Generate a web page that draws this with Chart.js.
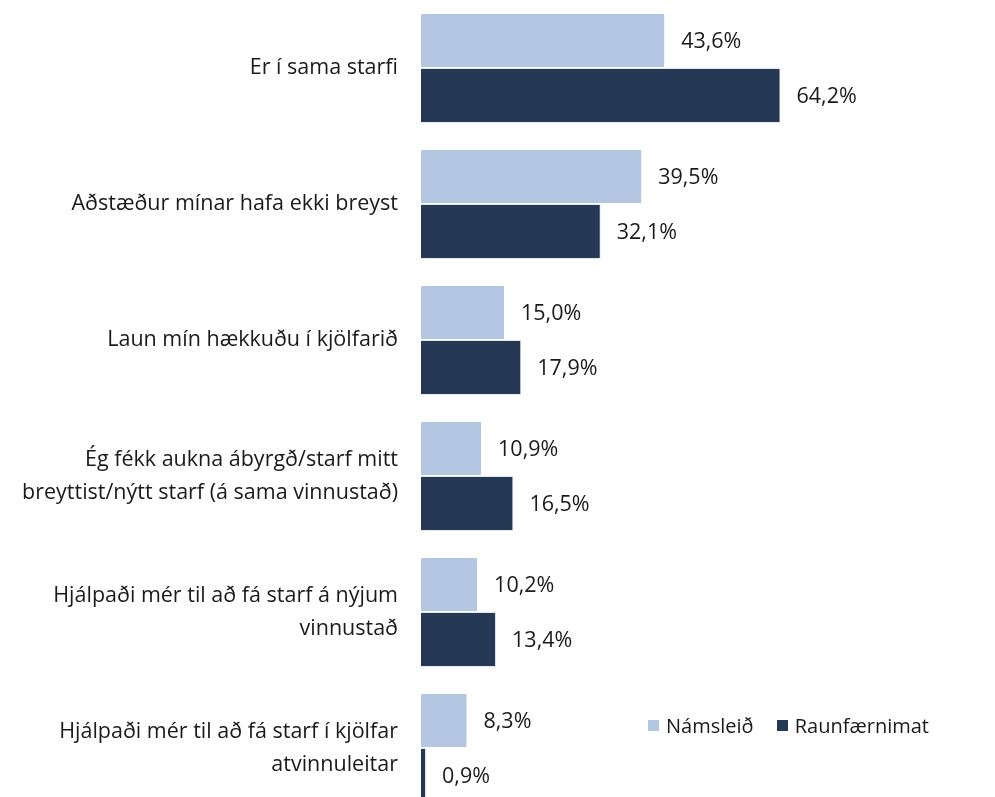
<!DOCTYPE html>
<html>
<head>
<meta charset="utf-8">
<script src="https://cdn.jsdelivr.net/npm/chart.js@4"></script>
<style>
  body { margin: 0; background: #fff; overflow: hidden; }
  #wrap { position: relative; width: 995px; height: 816px; }
  #legend { position: absolute; left: 648px; top: 712px; font: 20px "Open Sans", sans-serif; color: #1a1a1a; white-space: nowrap; }
  #legend span.sw { display: inline-block; width: 11px; height: 11px; margin-right: 7px; vertical-align: 2px; }
  #legend span.item { margin-right: 18px; }
</style>
</head>
<body>
<div id="wrap">
  <canvas id="chart"></canvas>
  <div id="legend">
    <span class="item"><span class="sw" style="background:#b4c7e2"></span>Námsleið</span>
    <span><span class="sw" style="background:#253955"></span>Raunfærnimat</span>
  </div>
</div>
<script>
// gögn
const flokkar = [
    'Er í sama starfi',
    'Aðstæður mínar hafa ekki breyst',
    'Laun mín hækkuðu í kjölfarið',
    ['Ég fékk aukna ábyrgð/starf mitt', 'breyttist/nýtt starf (á sama vinnustað)'],
    ['Hjálpaði mér til að fá starf á nýjum', 'vinnustað'],
    ['Hjálpaði mér til að fá starf í kjölfar', 'atvinnuleitar']
];
const namsleid = [43.6, 39.5, 15.0, 10.9, 10.2, 8.3];
const raunfaernimat = [64.2, 32.1, 17.9, 16.5, 13.4, 0.9];

const fmt = v => v.toFixed(1).replace('.', ',') + '%';

// teikna gildi við enda súlna
const gildiPlugin = {
    id: 'gildi',
    afterDatasetsDraw(chart) {
        const ctx = chart.ctx;
        ctx.save();
        ctx.font = '21.5px "Open Sans", sans-serif';
        ctx.fillStyle = '#1a1a1a';
        ctx.textAlign = 'left';
        ctx.textBaseline = 'middle';
        chart.data.datasets.forEach((ds, i) => {
            chart.getDatasetMeta(i).data.forEach((bar, j) => {
                ctx.fillText(fmt(ds.data[j]), bar.x + 16, bar.y + 1);
            });
        });
        ctx.restore();
    }
};

const chart = new Chart(document.getElementById('chart'), {
    type: 'bar',
    data: {
        labels: flokkar,
        datasets: [
            { label: 'Námsleið', data: namsleid, backgroundColor: '#b4c7e2', borderColor: 'rgba(255,255,255,0.7)', borderWidth: 1 },
            { label: 'Raunfærnimat', data: raunfaernimat, backgroundColor: '#253955', borderColor: 'rgba(220,225,235,0.8)', borderWidth: 1 }
        ]
    },
    options: {
        indexAxis: 'y',
        responsive: true,
        maintainAspectRatio: false,
        animation: false,
        layout: { padding: { left: 0, right: 14, top: 0, bottom: 0 } },
        datasets: { bar: { categoryPercentage: 0.81, barPercentage: 1 } },
        plugins: { legend: { display: false }, tooltip: { enabled: false } },
        scales: {
            x: { display: false, min: 0, max: 100 },
            y: {
                grid: { display: false, drawTicks: false },
                border: { display: false },
                ticks: {
                    padding: 23,
                    color: '#1a1a1a',
                    font: { family: '"Open Sans", sans-serif', size: 21.5, lineHeight: 1.53 }
                },
                afterFit(scale) {
                    scale.width = 421;
                    scale.paddingTop = 0;
                    scale.paddingBottom = 0;
                }
            }
        }
    },
    plugins: [gildiPlugin]
});
</script>
</body>
</html>
